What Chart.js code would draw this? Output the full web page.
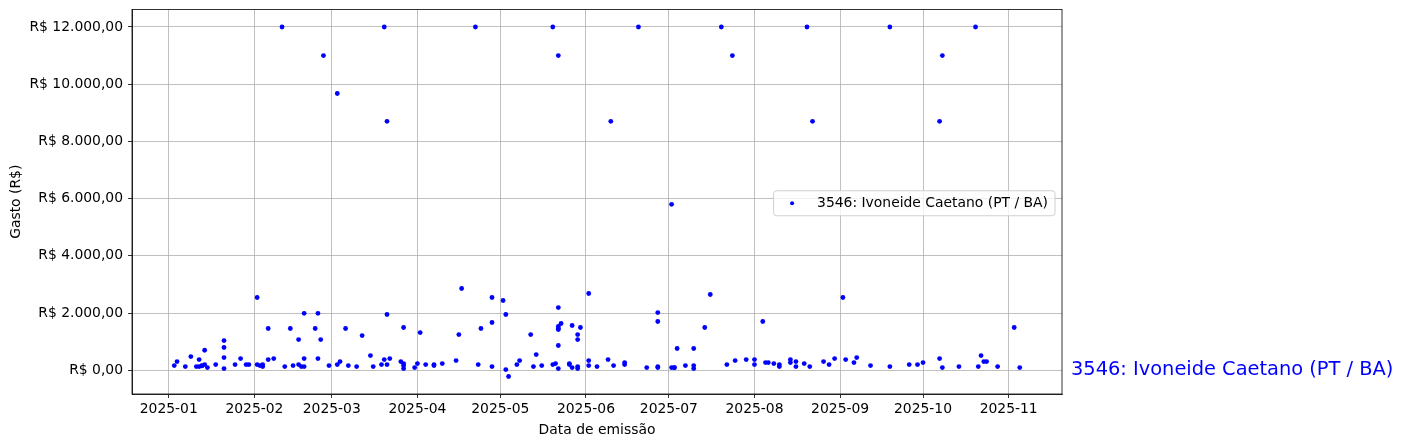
<!DOCTYPE html>
<html>
<head>
<meta charset="utf-8">
<script src="https://cdn.jsdelivr.net/npm/chart.js@4.4.1/dist/chart.umd.min.js"></script>
<style>
  html, body { margin: 0; padding: 0; background: #fff; }
  #wrap { width: 1404px; height: 448px; }
</style>
</head>
<body>
<div id="wrap"><canvas id="chart" width="1404" height="448"></canvas></div>
<script>
// datas de emissão e valores
const emissionDates = [
  "2025-01-03","2025-01-04","2025-01-07","2025-01-09","2025-01-11","2025-01-12","2025-01-12","2025-01-13","2025-01-13","2025-01-14",
  "2025-01-14","2025-01-15","2025-01-18","2025-01-21","2025-01-21","2025-01-21","2025-01-21","2025-01-25","2025-01-27","2025-01-29",
  "2025-01-30",
  "2025-02-02","2025-02-02","2025-02-03","2025-02-04","2025-02-04","2025-02-06","2025-02-06","2025-02-08","2025-02-11","2025-02-12",
  "2025-02-14","2025-02-15","2025-02-17","2025-02-17","2025-02-18","2025-02-19","2025-02-19","2025-02-19","2025-02-23","2025-02-24",
  "2025-02-24","2025-02-25","2025-02-26","2025-02-28",
  "2025-03-03","2025-03-03","2025-03-04","2025-03-06","2025-03-07","2025-03-10","2025-03-12","2025-03-15","2025-03-16","2025-03-19",
  "2025-03-20","2025-03-20","2025-03-21","2025-03-21","2025-03-21","2025-03-22","2025-03-26","2025-03-27","2025-03-27","2025-03-27",
  "2025-03-27","2025-03-31",
  "2025-04-01","2025-04-02","2025-04-04","2025-04-07","2025-04-07","2025-04-10","2025-04-15","2025-04-16","2025-04-17","2025-04-22",
  "2025-04-23","2025-04-24","2025-04-28","2025-04-28","2025-04-28",
  "2025-05-02","2025-05-03","2025-05-03","2025-05-04","2025-05-07","2025-05-08","2025-05-12","2025-05-13","2025-05-14","2025-05-16",
  "2025-05-20","2025-05-20","2025-05-21","2025-05-22","2025-05-22","2025-05-22","2025-05-22","2025-05-22","2025-05-22","2025-05-22",
  "2025-05-23","2025-05-26","2025-05-26","2025-05-27","2025-05-27","2025-05-29","2025-05-29","2025-05-29","2025-05-29","2025-05-30",
  "2025-06-02","2025-06-02","2025-06-02","2025-06-05","2025-06-09","2025-06-10","2025-06-11","2025-06-15","2025-06-15","2025-06-20",
  "2025-06-23","2025-06-27","2025-06-27","2025-06-27","2025-06-27",
  "2025-07-02","2025-07-02","2025-07-03","2025-07-03","2025-07-04","2025-07-07","2025-07-10","2025-07-10","2025-07-10","2025-07-14",
  "2025-07-16","2025-07-20","2025-07-22","2025-07-24","2025-07-25","2025-07-29",
  "2025-08-01","2025-08-01","2025-08-04","2025-08-05","2025-08-06","2025-08-08","2025-08-10","2025-08-10","2025-08-14","2025-08-14",
  "2025-08-16","2025-08-16","2025-08-19","2025-08-20","2025-08-21","2025-08-22","2025-08-26","2025-08-28","2025-08-30",
  "2025-09-02","2025-09-03","2025-09-06","2025-09-07","2025-09-12","2025-09-19","2025-09-19","2025-09-26","2025-09-29",
  "2025-10-01","2025-10-07","2025-10-07","2025-10-08","2025-10-08","2025-10-14","2025-10-20","2025-10-21","2025-10-22","2025-10-23",
  "2025-10-24","2025-10-28",
  "2025-11-03","2025-11-05"
];

const amounts = [
  164, 304, 129, 479, 129, 129, 374, 150, 164, 699,
  199, 94, 199, 1038, 794, 444, 59, 199, 409, 199,
  199,
  199, 2542, 164, 199, 129, 374, 1458, 409, 12000, 129,
  1458, 164, 199, 1073, 129, 409, 129, 1990, 1458, 1990,
  409, 1073, 11000, 164,
  199, 9675, 304, 1458, 164, 129, 1213, 514, 129, 199,
  374, 12000, 199, 1948, 8700, 409, 304, 1493, 234, 164,
  59, 94,
  234, 1318, 199, 199, 164, 234, 339, 1248, 2857, 12000,
  199, 1458, 129, 1668, 2542,
  2437, 1948, 24, -220, 199, 339, 1248, 129, 549, 164,
  199, 12000, 234, 2192, 1528, 1458, 1423, 864, 59, 11000,
  1633, 199, 234, 1563, 94, 1248, 1073, 129, 59, 1493,
  2682, 339, 164, 129, 374, 8700, 164, 269, 199, 12000,
  94, 94, 129, 2017, 1703,
  94, 5800, 94, 90, 759, 164, 759, 59, 164, 1493,
  2647, 12000, 199, 11000, 339, 374,
  199, 374, 1703, 269, 269, 234, 129, 199, 374, 269,
  129, 304, 234, 12000, 129, 8700, 304, 199, 409,
  2542, 374, 269, 444, 164, 129, 12000, 199, 199,
  269, 409, 8700, 94, 11000, 129, 12000, 129, 514, 304,
  304, 129,
  1493, 94
];

const monthTicks = ["2025-01","2025-02","2025-03","2025-04","2025-05","2025-06","2025-07","2025-08","2025-09","2025-10","2025-11"];
const valueTicks = [0, 2000, 4000, 6000, 8000, 10000, 12000];
const seriesLabel = "3546: Ivoneide Caetano (PT / BA)";

const FONT = '"DejaVu Sans", sans-serif';
const FS = 13.9;

function dayNum(s) {
  const p = s.split("-").map(Number);
  return Date.UTC(p[0], p[1] - 1, p[2] || 1) / 86400000;
}

function formatBRL(v) {
  const s = String(Math.abs(Math.round(v))).replace(/\B(?=(\d{3})+(?!\d))/g, ".");
  return "R$ " + (v < 0 ? "-" : "") + s + ",00";
}

const points = emissionDates.map((d, i) => ({ x: dayNum(d), y: amounts[i] }));

// margens de 5% como no matplotlib
const xs = points.map((p) => p.x);
const ys = points.map((p) => p.y);
const xLo = Math.min(...xs), xHi = Math.max(...xs);
const yLo = Math.min(...ys), yHi = Math.max(...ys);
const xPad = (xHi - xLo) * 0.05, yPad = (yHi - yLo) * 0.05;

const decorPlugin = {
  id: "decor",
  afterDraw(chart) {
    const ctx = chart.ctx;
    const a = chart.chartArea;
    ctx.save();

    // moldura
    ctx.strokeStyle = "#000";
    ctx.lineWidth = 0.8;
    ctx.strokeRect(a.left, a.top, a.right - a.left, a.bottom - a.top);

    // títulos dos eixos
    ctx.fillStyle = "#000";
    ctx.font = FS + "px " + FONT;
    ctx.textAlign = "center";
    ctx.textBaseline = "middle";
    ctx.fillText("Data de emissão", (a.left + a.right) / 2, 430);
    ctx.save();
    ctx.translate(16, (a.top + a.bottom) / 2);
    ctx.rotate(-Math.PI / 2);
    ctx.fillText("Gasto (R$)", 0, 0);
    ctx.restore();

    // legenda
    ctx.font = FS + "px " + FONT;
    const tw = ctx.measureText(seriesLabel).width;
    const boxRight = a.right - 7;
    const textX = boxRight - 7 - tw;
    const boxLeft = textX - 43.5;
    const cy = (a.top + a.bottom) / 2 + 1.5;
    ctx.beginPath();
    ctx.roundRect(boxLeft, cy - 12.5, boxRight - boxLeft, 25, 3);
    ctx.fillStyle = "rgba(255,255,255,0.8)";
    ctx.fill();
    ctx.strokeStyle = "#d0d0d0";
    ctx.lineWidth = 1;
    ctx.stroke();
    ctx.fillStyle = "#0000ff";
    ctx.beginPath();
    ctx.arc(textX - 25, cy, 2, 0, Math.PI * 2);
    ctx.fill();
    ctx.fillStyle = "#000";
    ctx.textAlign = "left";
    ctx.fillText(seriesLabel, textX, cy);

    // rótulo à direita
    ctx.fillStyle = "#0000ff";
    ctx.font = "19.4px " + FONT;
    ctx.fillText(seriesLabel, a.right + 9, chart.scales.y.getPixelForValue(0));
    ctx.restore();
  },
};

new Chart(document.getElementById("chart"), {
  type: "scatter",
  data: {
    datasets: [
      {
        label: seriesLabel,
        data: points,
        backgroundColor: "#0000ff",
        borderWidth: 0,
        pointRadius: 2.4,
        pointHoverRadius: 2.4,
      },
    ],
  },
  options: {
    responsive: false,
    animation: false,
    devicePixelRatio: 1,
    layout: { padding: { left: 0, top: 9.5, right: 342, bottom: 0 } },
    plugins: {
      legend: { display: false },
      tooltip: { enabled: false },
    },
    scales: {
      x: {
        type: "linear",
        min: xLo - xPad,
        max: xHi + xPad,
        afterBuildTicks: (s) => {
          s.ticks = monthTicks.map((m) => ({ value: dayNum(m + "-01") }));
        },
        afterFit: (s) => {
          s.height = 54;
          s.paddingLeft = 0;
          s.paddingRight = 0;
        },
        ticks: {
          autoSkip: false,
          maxRotation: 0,
          padding: 3,
          color: "#000",
          font: { family: FONT, size: FS },
          callback: (v, i) => monthTicks[i],
        },
        grid: { color: "#b0b0b0", lineWidth: 0.8, tickLength: 4, tickColor: "#000", tickWidth: 0.8 },
        border: { display: true, color: "#000", width: 0.8 },
      },
      y: {
        type: "linear",
        min: yLo - yPad,
        max: yHi + yPad,
        afterBuildTicks: (s) => {
          s.ticks = valueTicks.map((v) => ({ value: v }));
        },
        afterFit: (s) => {
          s.width = 132;
          s.paddingTop = 0;
          s.paddingBottom = 0;
        },
        ticks: {
          autoSkip: false,
          padding: 5,
          color: "#000",
          font: { family: FONT, size: FS },
          callback: (v) => formatBRL(v),
        },
        grid: { color: "#b0b0b0", lineWidth: 0.8, tickLength: 4, tickColor: "#000", tickWidth: 0.8 },
        border: { display: true, color: "#000", width: 0.8 },
      },
    },
  },
  plugins: [decorPlugin],
});
</script>
</body>
</html>
